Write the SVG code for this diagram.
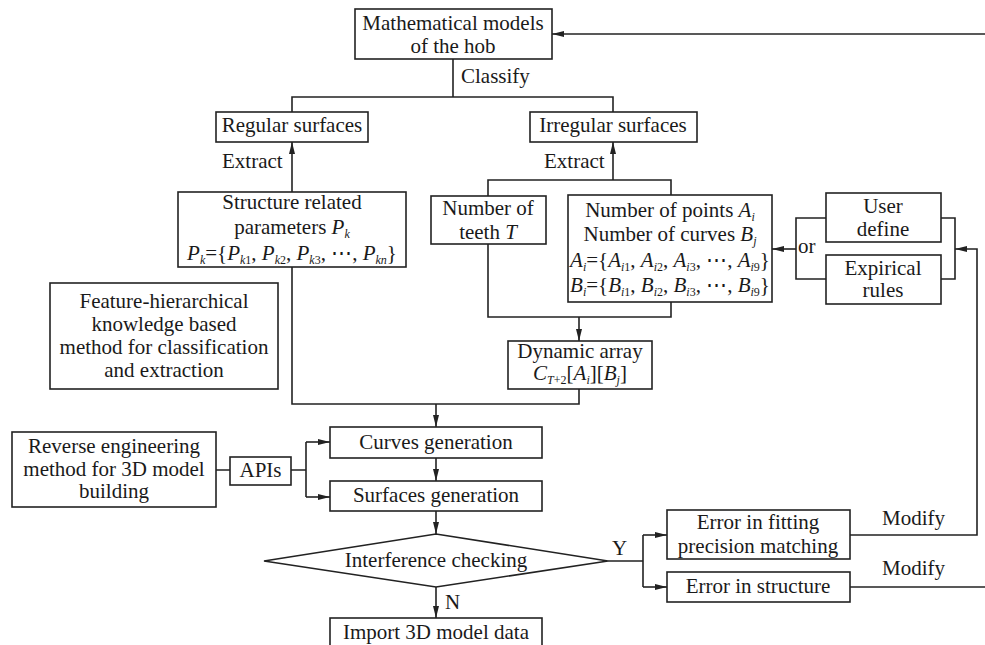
<svg xmlns="http://www.w3.org/2000/svg" width="985" height="645" viewBox="0 0 985 645">
<style>
text{font-family:"Liberation Serif","Times New Roman","DejaVu Serif",serif;font-size:21px;fill:#1a1a1a}
.c{text-anchor:middle}
.i{font-style:italic}
.s{font-size:12px}
.box{fill:#fff;stroke:#222;stroke-width:1.6}
.ln{fill:none;stroke:#222;stroke-width:1.6}
.ar{fill:none;stroke:#222;stroke-width:1.6;marker-end:url(#ah)}
</style>
<defs>
<marker id="ah" viewBox="0 0 12 6" markerWidth="12" markerHeight="6" refX="12" refY="3" orient="auto" markerUnits="userSpaceOnUse">
<path d="M0,0 L12,3 L0,6 z" fill="#222"/>
</marker>
</defs>
<rect width="985" height="645" fill="#fff"/>
<g id="connectors">
<path class="ar" d="M985,34 H552"/>
<path class="ln" d="M453,59 V97 M292,112 V97 H613 V112"/>
<path class="ar" d="M292,192 V142"/>
<path class="ar" d="M613,180 V142"/>
<path class="ln" d="M488,196 V180 H671 V195"/>
<path class="ln" d="M488,244 V317 H671 V302"/>
<path class="ar" d="M579,317 V341"/>
<path class="ln" d="M292,267 V404 H579 V389"/>
<path class="ar" d="M436,404 V427"/>
<path class="ln" d="M216,470 H230 M291,470 H306 M306,442 V497"/>
<path class="ar" d="M306,442 H330"/>
<path class="ar" d="M306,497 H330"/>
<path class="ar" d="M436,458 V481"/>
<path class="ar" d="M436,511 V534"/>
<path class="ar" d="M436,587 V618"/>
<path class="ln" d="M608,561 H643 M643,535 V587"/>
<path class="ar" d="M643,535 H667"/>
<path class="ar" d="M643,587 H667"/>
<path class="ar" d="M850,535 H977 V249 H955"/>
<path class="ln" d="M941,218 H955 V279 H941"/>
<path class="ln" d="M826,218 H796 V279 H826"/>
<path class="ar" d="M796,249 H772"/>
<path class="ln" d="M850,587 H985"/>
<text x="461" y="83">Classify</text>
<text x="222" y="168">Extract</text>
<text x="544" y="168">Extract</text>
<text x="798" y="253">or</text>
<text x="445" y="609">N</text>
<text x="612" y="555">Y</text>
<text x="882" y="525">Modify</text>
<text x="882" y="575">Modify</text>
</g>
<g id="n-math">
<rect class="box" x="355" y="9" width="197" height="50"/>
<text class="c" x="453" y="30">Mathematical models</text>
<text class="c" x="453" y="53">of the hob</text>
</g>
<g id="n-regular">
<rect class="box" x="216" y="112" width="152" height="30"/>
<text class="c" x="292" y="132">Regular surfaces</text>
</g>
<g id="n-irregular">
<rect class="box" x="530" y="112" width="167" height="30"/>
<text class="c" x="613" y="132">Irregular surfaces</text>
</g>
<g id="n-structure">
<rect class="box" x="178" y="192" width="228" height="75"/>
<text class="c" x="292" y="209">Structure related</text>
<text class="c" x="292" y="234">parameters <tspan class="i">P</tspan><tspan class="s i" dy="4">k</tspan></text>
<text class="c" x="292" y="260"><tspan class="i">P</tspan><tspan class="s i" dy="4">k</tspan><tspan dy="-4">={</tspan><tspan class="i">P</tspan><tspan class="s" dy="4"><tspan class="i">k</tspan>1</tspan><tspan dy="-4">, </tspan><tspan class="i">P</tspan><tspan class="s" dy="4"><tspan class="i">k</tspan>2</tspan><tspan dy="-4">, </tspan><tspan class="i">P</tspan><tspan class="s" dy="4"><tspan class="i">k</tspan>3</tspan><tspan dy="-4">, ⋯, </tspan><tspan class="i">P</tspan><tspan class="s i" dy="4">kn</tspan><tspan dy="-4">}</tspan></text>
</g>
<g id="n-teeth">
<rect class="box" x="431" y="196" width="115" height="48"/>
<text class="c" x="488" y="215">Number of</text>
<text class="c" x="488" y="239">teeth <tspan class="i">T</tspan></text>
</g>
<g id="n-points">
<rect class="box" x="568" y="195" width="204" height="107"/>
<text class="c" x="670" y="217">Number of points <tspan class="i">A</tspan><tspan class="s i" dy="4">i</tspan></text>
<text class="c" x="670" y="241">Number of curves <tspan class="i">B</tspan><tspan class="s i" dy="4">j</tspan></text>
<text class="c" x="670" y="267"><tspan class="i">A</tspan><tspan class="s i" dy="4">i</tspan><tspan dy="-4">={</tspan><tspan class="i">A</tspan><tspan class="s" dy="4"><tspan class="i">i</tspan>1</tspan><tspan dy="-4">, </tspan><tspan class="i">A</tspan><tspan class="s" dy="4"><tspan class="i">i</tspan>2</tspan><tspan dy="-4">, </tspan><tspan class="i">A</tspan><tspan class="s" dy="4"><tspan class="i">i</tspan>3</tspan><tspan dy="-4">, ⋯, </tspan><tspan class="i">A</tspan><tspan class="s" dy="4"><tspan class="i">i</tspan>9</tspan><tspan dy="-4">}</tspan></text>
<text class="c" x="670" y="292"><tspan class="i">B</tspan><tspan class="s i" dy="4">i</tspan><tspan dy="-4">={</tspan><tspan class="i">B</tspan><tspan class="s" dy="4"><tspan class="i">i</tspan>1</tspan><tspan dy="-4">, </tspan><tspan class="i">B</tspan><tspan class="s" dy="4"><tspan class="i">i</tspan>2</tspan><tspan dy="-4">, </tspan><tspan class="i">B</tspan><tspan class="s" dy="4"><tspan class="i">i</tspan>3</tspan><tspan dy="-4">, ⋯, </tspan><tspan class="i">B</tspan><tspan class="s" dy="4"><tspan class="i">i</tspan>9</tspan><tspan dy="-4">}</tspan></text>
</g>
<g id="n-user">
<rect class="box" x="826" y="193" width="115" height="49"/>
<text class="c" x="883" y="213">User</text>
<text class="c" x="883" y="236">define</text>
</g>
<g id="n-rules">
<rect class="box" x="826" y="255" width="115" height="49"/>
<text class="c" x="883" y="275">Expirical</text>
<text class="c" x="883" y="297">rules</text>
</g>
<g id="n-feature">
<rect class="box" x="50" y="283" width="228" height="106"/>
<text class="c" x="164" y="308">Feature-hierarchical</text>
<text class="c" x="164" y="331">knowledge based</text>
<text class="c" x="164" y="354">method for classification</text>
<text class="c" x="164" y="377">and extraction</text>
</g>
<g id="n-dynamic">
<rect class="box" x="508" y="341" width="144" height="48"/>
<text class="c" x="580" y="358">Dynamic array</text>
<text class="c" x="580" y="380"><tspan class="i">C</tspan><tspan class="s" dy="4"><tspan class="i">T</tspan>+2</tspan><tspan dy="-4">[</tspan><tspan class="i">A</tspan><tspan class="s i" dy="4">i</tspan><tspan dy="-4">][</tspan><tspan class="i">B</tspan><tspan class="s i" dy="4">j</tspan><tspan dy="-4">]</tspan></text>
</g>
<g id="n-reverse">
<rect class="box" x="12" y="432" width="204" height="75"/>
<text class="c" x="114" y="453">Reverse engineering</text>
<text class="c" x="114" y="476">method for 3D model</text>
<text class="c" x="114" y="498">building</text>
</g>
<g id="n-apis">
<rect class="box" x="230" y="457" width="61" height="28"/>
<text class="c" x="260.5" y="477">APIs</text>
</g>
<g id="n-curves">
<rect class="box" x="330" y="427" width="212" height="31"/>
<text class="c" x="436" y="449">Curves generation</text>
</g>
<g id="n-surfaces">
<rect class="box" x="330" y="481" width="212" height="30"/>
<text class="c" x="436" y="502">Surfaces generation</text>
</g>
<g id="n-interference">
<polygon class="box" points="264,561 436,534 608,561 436,587"/>
<text class="c" x="436" y="567">Interference checking</text>
</g>
<g id="n-import">
<rect class="box" x="330" y="618" width="212" height="40"/>
<text class="c" x="436" y="639">Import 3D model data</text>
</g>
<g id="n-fitting">
<rect class="box" x="667" y="510" width="183" height="49"/>
<text class="c" x="758" y="529">Error in fitting</text>
<text class="c" x="758" y="553">precision matching</text>
</g>
<g id="n-structure-err">
<rect class="box" x="667" y="572" width="183" height="30"/>
<text class="c" x="758" y="593">Error in structure</text>
</g>
</svg>
